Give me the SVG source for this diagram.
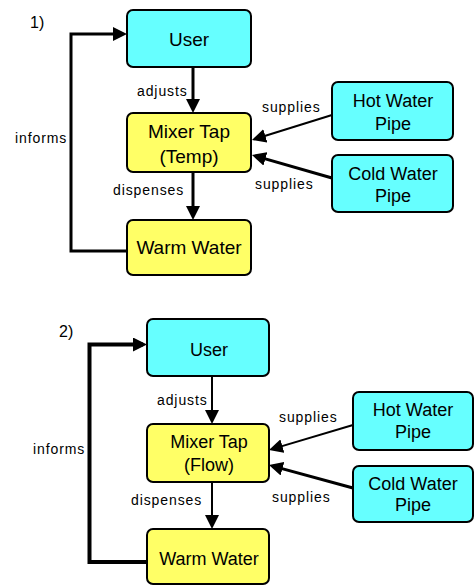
<svg xmlns="http://www.w3.org/2000/svg" width="474" height="585" viewBox="0 0 474 585">
<style>
.box{stroke:#000;stroke-width:2}
.cyan{fill:#66FFFF}
.yellow{fill:#FFFF66}
.bt{font-family:"Liberation Sans",Arial,sans-serif;font-size:18px;fill:#000;text-anchor:middle}
.big{font-size:19px}
.lb{font-family:"Liberation Sans",Arial,sans-serif;font-size:14px;fill:#000;letter-spacing:0.9px}
.num{font-family:"Liberation Sans",Arial,sans-serif;font-size:16px;fill:#000}
.c{fill:none;stroke:#000}
</style>
<defs>
<marker id="ah" viewBox="0 0 14 14" markerWidth="14" markerHeight="14" refX="10" refY="7" orient="auto" markerUnits="userSpaceOnUse">
<path d="M0,0 L14,7 L0,14 z" fill="#000"/>
</marker>
</defs>

<g id="connectors">
<!-- diagram 1 -->
<path class="c" d="M193,67 V109" stroke-width="3" marker-end="url(#ah)"/>
<path class="c" d="M193,172 V216" stroke-width="3" marker-end="url(#ah)"/>
<path class="c" d="M127,251 H71 V34 H123" stroke-width="3" marker-end="url(#ah)"/>
<path class="c" d="M332,115 L255.8,138.8" stroke-width="2" marker-end="url(#ah)"/>
<path class="c" d="M332,178 L255.8,156.1" stroke-width="3" marker-end="url(#ah)"/>
<!-- diagram 2 -->
<path class="c" d="M212,376 V420" stroke-width="2" marker-end="url(#ah)"/>
<path class="c" d="M212,482 V525" stroke-width="2" marker-end="url(#ah)"/>
<path class="c" d="M147,562 H89.5 V344.5 H143" stroke-width="4" marker-end="url(#ah)"/>
<path class="c" d="M353,425 L272.8,448.9" stroke-width="2" marker-end="url(#ah)"/>
<path class="c" d="M353,488 L272.8,466.1" stroke-width="3" marker-end="url(#ah)"/>
</g>

<g id="labels">
<text class="num" x="30" y="28">1)</text>
<text class="lb" x="137" y="96">adjusts</text>
<text class="lb" x="113" y="195">dispenses</text>
<text class="lb" x="15" y="143">informs</text>
<text class="lb" x="262" y="112">supplies</text>
<text class="lb" x="255" y="189">supplies</text>

<text class="num" x="59" y="337">2)</text>
<text class="lb" x="157" y="405">adjusts</text>
<text class="lb" x="131" y="505">dispenses</text>
<text class="lb" x="33" y="454">informs</text>
<text class="lb" x="279" y="422">supplies</text>
<text class="lb" x="272" y="502">supplies</text>
</g>

<g id="user1">
<rect class="box cyan" x="127" y="10" width="124" height="57" rx="6"/>
<text class="bt big" x="189" y="46">User</text>
</g>
<g id="mixer1">
<rect class="box yellow" x="127" y="113" width="124" height="59" rx="6"/>
<text class="bt big" x="189" y="138">Mixer Tap</text>
<text class="bt big" x="189" y="163">(Temp)</text>
</g>
<g id="warm1">
<rect class="box yellow" x="127" y="220" width="124" height="55" rx="6"/>
<text class="bt big" x="189" y="254">Warm Water</text>
</g>
<g id="hot1">
<rect class="box cyan" x="332" y="82" width="121" height="58" rx="6"/>
<text class="bt" x="393" y="107">Hot Water</text>
<text class="bt" x="393" y="130">Pipe</text>
</g>
<g id="cold1">
<rect class="box cyan" x="332" y="155" width="121" height="57" rx="6"/>
<text class="bt" x="393" y="180">Cold Water</text>
<text class="bt" x="393" y="202">Pipe</text>
</g>

<g id="user2">
<rect class="box cyan" x="147" y="319" width="122" height="57" rx="6"/>
<text class="bt" x="209" y="356">User</text>
</g>
<g id="mixer2">
<rect class="box yellow" x="147" y="424" width="122" height="58" rx="6"/>
<text class="bt" x="209" y="448">Mixer Tap</text>
<text class="bt" x="209" y="471">(Flow)</text>
</g>
<g id="warm2">
<rect class="box yellow" x="147" y="529" width="122" height="55" rx="6"/>
<text class="bt" x="209" y="565">Warm Water</text>
</g>
<g id="hot2">
<rect class="box cyan" x="353" y="392" width="120" height="58" rx="6"/>
<text class="bt" x="413" y="416">Hot Water</text>
<text class="bt" x="413" y="438">Pipe</text>
</g>
<g id="cold2">
<rect class="box cyan" x="353" y="466" width="120" height="56" rx="6"/>
<text class="bt" x="413" y="490">Cold Water</text>
<text class="bt" x="413" y="511">Pipe</text>
</g>
</svg>
